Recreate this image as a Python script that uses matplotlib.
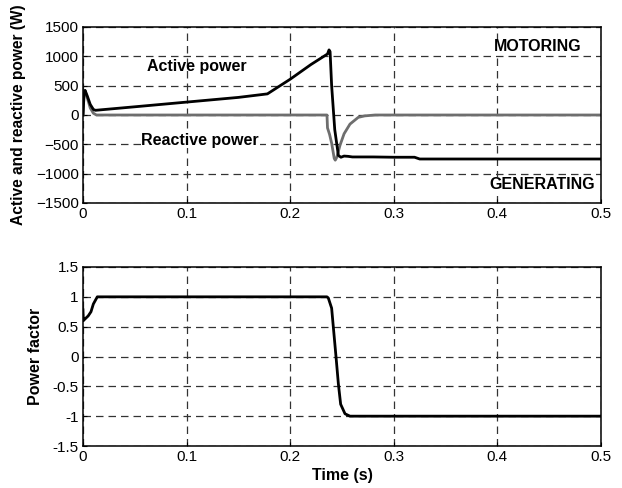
import matplotlib.pyplot as plt

plt.rcParams['font.family'] = ['Liberation Sans', 'DejaVu Sans']

# values (time in s)
t_active = [0.0, 0.001, 0.002, 0.004, 0.007, 0.010, 0.012, 0.05, 0.10, 0.15, 0.178,
            0.20, 0.22, 0.236, 0.2375, 0.2385, 0.240, 0.243, 0.2465, 0.249, 0.252,
            0.256, 0.26, 0.28, 0.30, 0.32, 0.325, 0.40, 0.50]
p_active = [0.0, 350, 420, 330, 180, 95, 80, 140, 220, 300, 360,
            610, 860, 1040, 1110, 1080, 500, -250, -690, -720, -700,
            -705, -715, -715, -720, -720, -750, -750, -750]

t_reactive = [0.0, 0.001, 0.002, 0.004, 0.007, 0.010, 0.013, 0.10, 0.20, 0.2355,
              0.236, 0.238, 0.240, 0.2425, 0.2435, 0.245, 0.248, 0.252, 0.2577,
              0.2657, 0.272, 0.282, 0.40, 0.50]
q_reactive = [0.0, 380, 410, 300, 120, 30, 0, 0, 0, 0,
              -220, -330, -480, -740, -770, -720, -520, -320, -155,
              -40, -15, 0, 0, 0]

t_pf = [0.0, 0.0003, 0.002, 0.005, 0.0077, 0.010, 0.0138, 0.10, 0.20, 0.2355,
        0.2368, 0.240, 0.2416, 0.2442, 0.2465, 0.2487, 0.2529, 0.2577, 0.30, 0.40, 0.50]
pf = [0.78, 0.60, 0.63, 0.68, 0.75, 0.88, 1.0, 1.0, 1.0, 1.0,
      0.98, 0.81, 0.50, 0.0, -0.46, -0.80, -0.96, -1.0, -1.0, -1.0, -1.0]

x_ticks = [0, 0.1, 0.2, 0.3, 0.4, 0.5]
x_labels = ['0', '0.1', '0.2', '0.3', '0.4', '0.5']
p_ticks = [-1500, -1000, -500, 0, 500, 1000, 1500]
pf_ticks = [-1.5, -1, -0.5, 0, 0.5, 1, 1.5]
pf_labels = ['-1.5', '-1', '-0.5', '0', '0.5', '1', '1.5']


def style(ax):
    ax.set_xlim(0, 0.5)
    ax.set_xticks(x_ticks)
    ax.set_xticklabels(x_labels)
    ax.grid(True, color='#333333', linestyle=(0, (6, 4)), linewidth=0.9)
    ax.tick_params(direction='in', length=3, labelsize=11, pad=3)
    for spine in ax.spines.values():
        spine.set_linewidth(1.1)


fig = plt.figure(figsize=(6.22, 4.88), dpi=100)
ax1 = fig.add_axes([83 / 622, 1 - 203 / 488, 518 / 622, 176 / 488])
ax2 = fig.add_axes([83 / 622, 1 - 446 / 488, 518 / 622, 179 / 488])

ax1.plot(t_reactive, q_reactive, color='#6e6e6e', linewidth=2.0)
ax1.plot(t_active, p_active, color='black', linewidth=2.0)
ax1.set_ylim(-1500, 1500)
ax1.set_yticks(p_ticks)
style(ax1)
ax1.set_ylabel('Active and reactive power (W)', fontsize=11.2, fontweight='bold', labelpad=7)
ax1.text(0.110, 830, 'Active power', fontsize=11.5, fontweight='bold', ha='center', va='center')
ax1.text(0.113, -430, 'Reactive power', fontsize=11.5, fontweight='bold', ha='center', va='center',
         bbox=dict(facecolor='white', edgecolor='none', pad=0.5))
ax1.text(0.439, 1165, 'MOTORING', fontsize=11.5, fontweight='bold', ha='center', va='center',
         bbox=dict(facecolor='white', edgecolor='none', pad=0.5))
ax1.text(0.443, -1190, 'GENERATING', fontsize=11.5, fontweight='bold', ha='center', va='center',
         bbox=dict(facecolor='white', edgecolor='none', pad=0.5))

ax2.plot(t_pf, pf, color='black', linewidth=2.0)
ax2.set_ylim(-1.5, 1.5)
ax2.set_yticks(pf_ticks)
ax2.set_yticklabels(pf_labels)
style(ax2)
ax2.set_ylabel('Power factor', fontsize=11.5, fontweight='bold', labelpad=7)
ax2.set_xlabel('Time (s)', fontsize=11.5, fontweight='bold', labelpad=3)

fig.savefig('out.png', dpi=100)
